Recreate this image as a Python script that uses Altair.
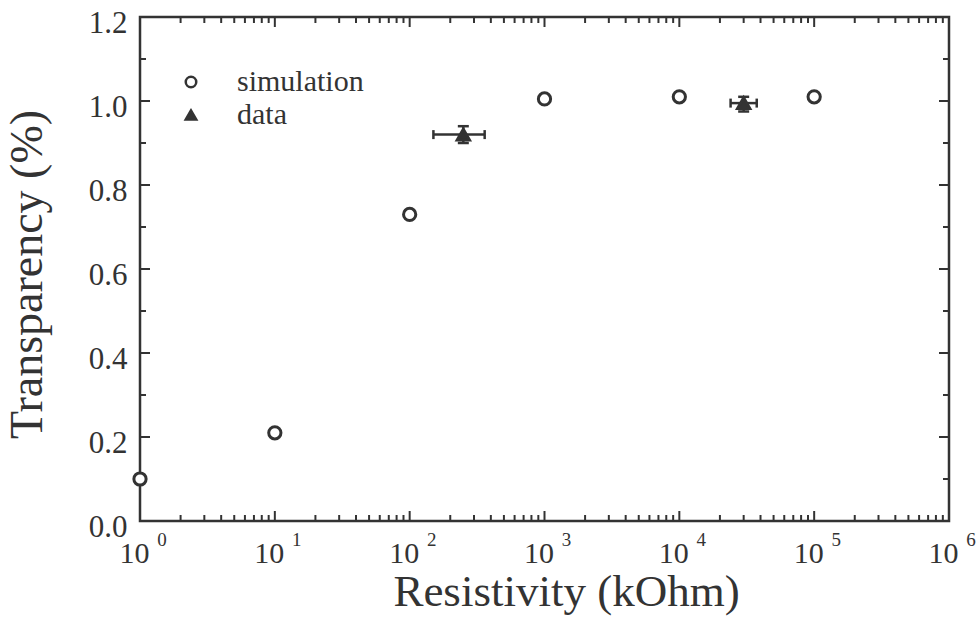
import altair as alt
import pandas as pd

# ---- data ----
sim_x = [1, 10, 100, 1000, 10000, 100000]
sim_y = [0.10, 0.21, 0.73, 1.005, 1.01, 1.01]

data_x = [250, 30000]
data_y = [0.92, 0.995]
data_xlo = [150, 24000]
data_xhi = [360, 37500]
data_ylo = [0.90, 0.975]
data_yhi = [0.94, 1.01]

x_major = [1, 10, 100, 1000, 10000, 100000, 1000000]
x_exp = ["0", "1", "2", "3", "4", "5", "6"]
x_minor = [k * 10 ** n for n in range(6) for k in range(2, 10)]
y_major = [0.0, 0.2, 0.4, 0.6, 0.8, 1.0, 1.2]
y_minor = [0.1, 0.3, 0.5, 0.7, 0.9, 1.1]

sim_name = "simulation"
data_name = "data"
x_title = "Resistivity (kOhm)"
y_title = "Transparency (%)"

# ---- style ----
W, H = 809, 504
INK = "#333333"
FONT = "Liberation Serif"
MAJ, MIN = 10, 6

sim_df = pd.DataFrame({"x": sim_x, "y": sim_y, "series": [sim_name] * len(sim_x)})
dat_df = pd.DataFrame({"x": data_x, "y": data_y, "series": [data_name] * len(data_x)})
err = pd.DataFrame({"x": data_x, "y": data_y, "xlo": data_xlo, "xhi": data_xhi,
                    "ylo": data_ylo, "yhi": data_yhi})

xscale = alt.Scale(type="log", domain=[1, 1e6], nice=False)
yscale = alt.Scale(domain=[0, 1.2], nice=False)

XAX = alt.Axis(values=x_major, labelExpr="'10'", labelFont=FONT, labelFontSize=30,
               labelColor=INK, labelPadding=17, labelOffset=-6, ticks=False,
               domain=False, grid=False, labelFlush=False, labelOverlap=False,
               titleFont=FONT, titleFontSize=45, titleFontWeight="normal",
               titleColor=INK, titlePadding=1, titleX=426, titleAlign="center")
YAX = alt.Axis(values=y_major, format=".1f", labelFont=FONT, labelFontSize=31,
               labelColor=INK, labelPadding=13, labelOffset=6, ticks=False,
               domain=False, grid=False, labelFlush=False, labelOverlap=False,
               titleFont=FONT, titleFontSize=46, titleFontWeight="normal",
               titleColor=INK, titlePadding=37, titleY=257)


def X(field):
    return alt.X(field, scale=xscale, axis=XAX, title=x_title)


def Y(field):
    return alt.Y(field, scale=yscale, axis=YAX, title=y_title)


def xticks(vals, top, length):
    y0, y1 = (0, length) if top else (H, H - length)
    return alt.Chart(pd.DataFrame({"x": vals})).mark_rule(color=INK, strokeWidth=2).encode(
        x=X("x:Q"), y=alt.value(y0), y2=alt.value(y1))


def yticks(vals, right, length):
    x0, x1 = (W, W - length) if right else (0, length)
    return alt.Chart(pd.DataFrame({"y": vals})).mark_rule(color=INK, strokeWidth=2).encode(
        y=Y("y:Q"), x=alt.value(x0), x2=alt.value(x1))


tick_layers = [
    xticks(x_major, False, MAJ), xticks(x_minor, False, MIN),
    xticks(x_major, True, MAJ), xticks(x_minor, True, MIN),
    yticks(y_major, False, MAJ), yticks(y_minor, False, MIN),
    yticks(y_major, True, MAJ), yticks(y_minor, True, MIN),
]

exps = alt.Chart(pd.DataFrame({"x": x_major, "e": x_exp})).mark_text(
    font=FONT, fontSize=19, color=INK, dx=22, align="center", baseline="middle"
).encode(x=X("x:Q"), y=alt.value(H + 19), text="e:N")

eb = alt.Chart(err)
hbar = eb.mark_rule(color=INK, strokeWidth=2.5).encode(x=X("xlo:Q"), x2="xhi:Q", y=Y("y:Q"))
vbar = eb.mark_rule(color=INK, strokeWidth=2.5).encode(x=X("x:Q"), y=Y("ylo:Q"), y2="yhi:Q")
capL = eb.mark_tick(orient="vertical", size=9, thickness=2.5, color=INK, opacity=1).encode(
    x=X("xlo:Q"), y=Y("y:Q"))
capR = eb.mark_tick(orient="vertical", size=9, thickness=2.5, color=INK, opacity=1).encode(
    x=X("xhi:Q"), y=Y("y:Q"))
capT = eb.mark_tick(orient="horizontal", size=11, thickness=2.5, color=INK, opacity=1).encode(
    x=X("x:Q"), y=Y("yhi:Q"))
capB = eb.mark_tick(orient="horizontal", size=11, thickness=2.5, color=INK, opacity=1).encode(
    x=X("x:Q"), y=Y("ylo:Q"))


def make_legend(ly):
    return alt.Legend(
        title=None, orient="none", legendX=36, legendY=ly, padding=0,
        labelFont=FONT, labelFontSize=30, labelColor=INK, labelOffset=31,
        symbolSize=110, symbolStrokeWidth=2.5, symbolStrokeColor=INK, labelLimit=400,
    )


def point_layer(df, name, shape, fill, ly):
    lg = make_legend(ly)
    return alt.Chart(df).mark_point(size=150, strokeWidth=3, opacity=1).encode(
        x=X("x:Q"),
        y=Y("y:Q"),
        shape=alt.Shape("series:N", scale=alt.Scale(domain=[name], range=[shape]), legend=lg),
        fill=alt.Fill("series:N", scale=alt.Scale(domain=[name], range=[fill]), legend=lg),
        stroke=alt.Stroke("series:N", scale=alt.Scale(domain=[name], range=[INK]), legend=lg),
    )


sim_pts = point_layer(sim_df, sim_name, "circle", "white", 50)
dat_pts = point_layer(dat_df, data_name, "triangle-up", INK, 83)

chart = alt.layer(*tick_layers, exps, hbar, vbar, capL, capR, capT, capB,
                  sim_pts, dat_pts).resolve_scale(
    shape="independent", fill="independent", stroke="independent"
).properties(
    width=W, height=H,
    autosize=alt.AutoSizeParams(type="none"),
    padding={"left": 140, "top": 17, "right": 31, "bottom": 98},
    background="white",
).configure_view(stroke=INK, strokeWidth=2.5)

chart.save("out.html", embed_options={"renderer": "svg", "actions": False})
